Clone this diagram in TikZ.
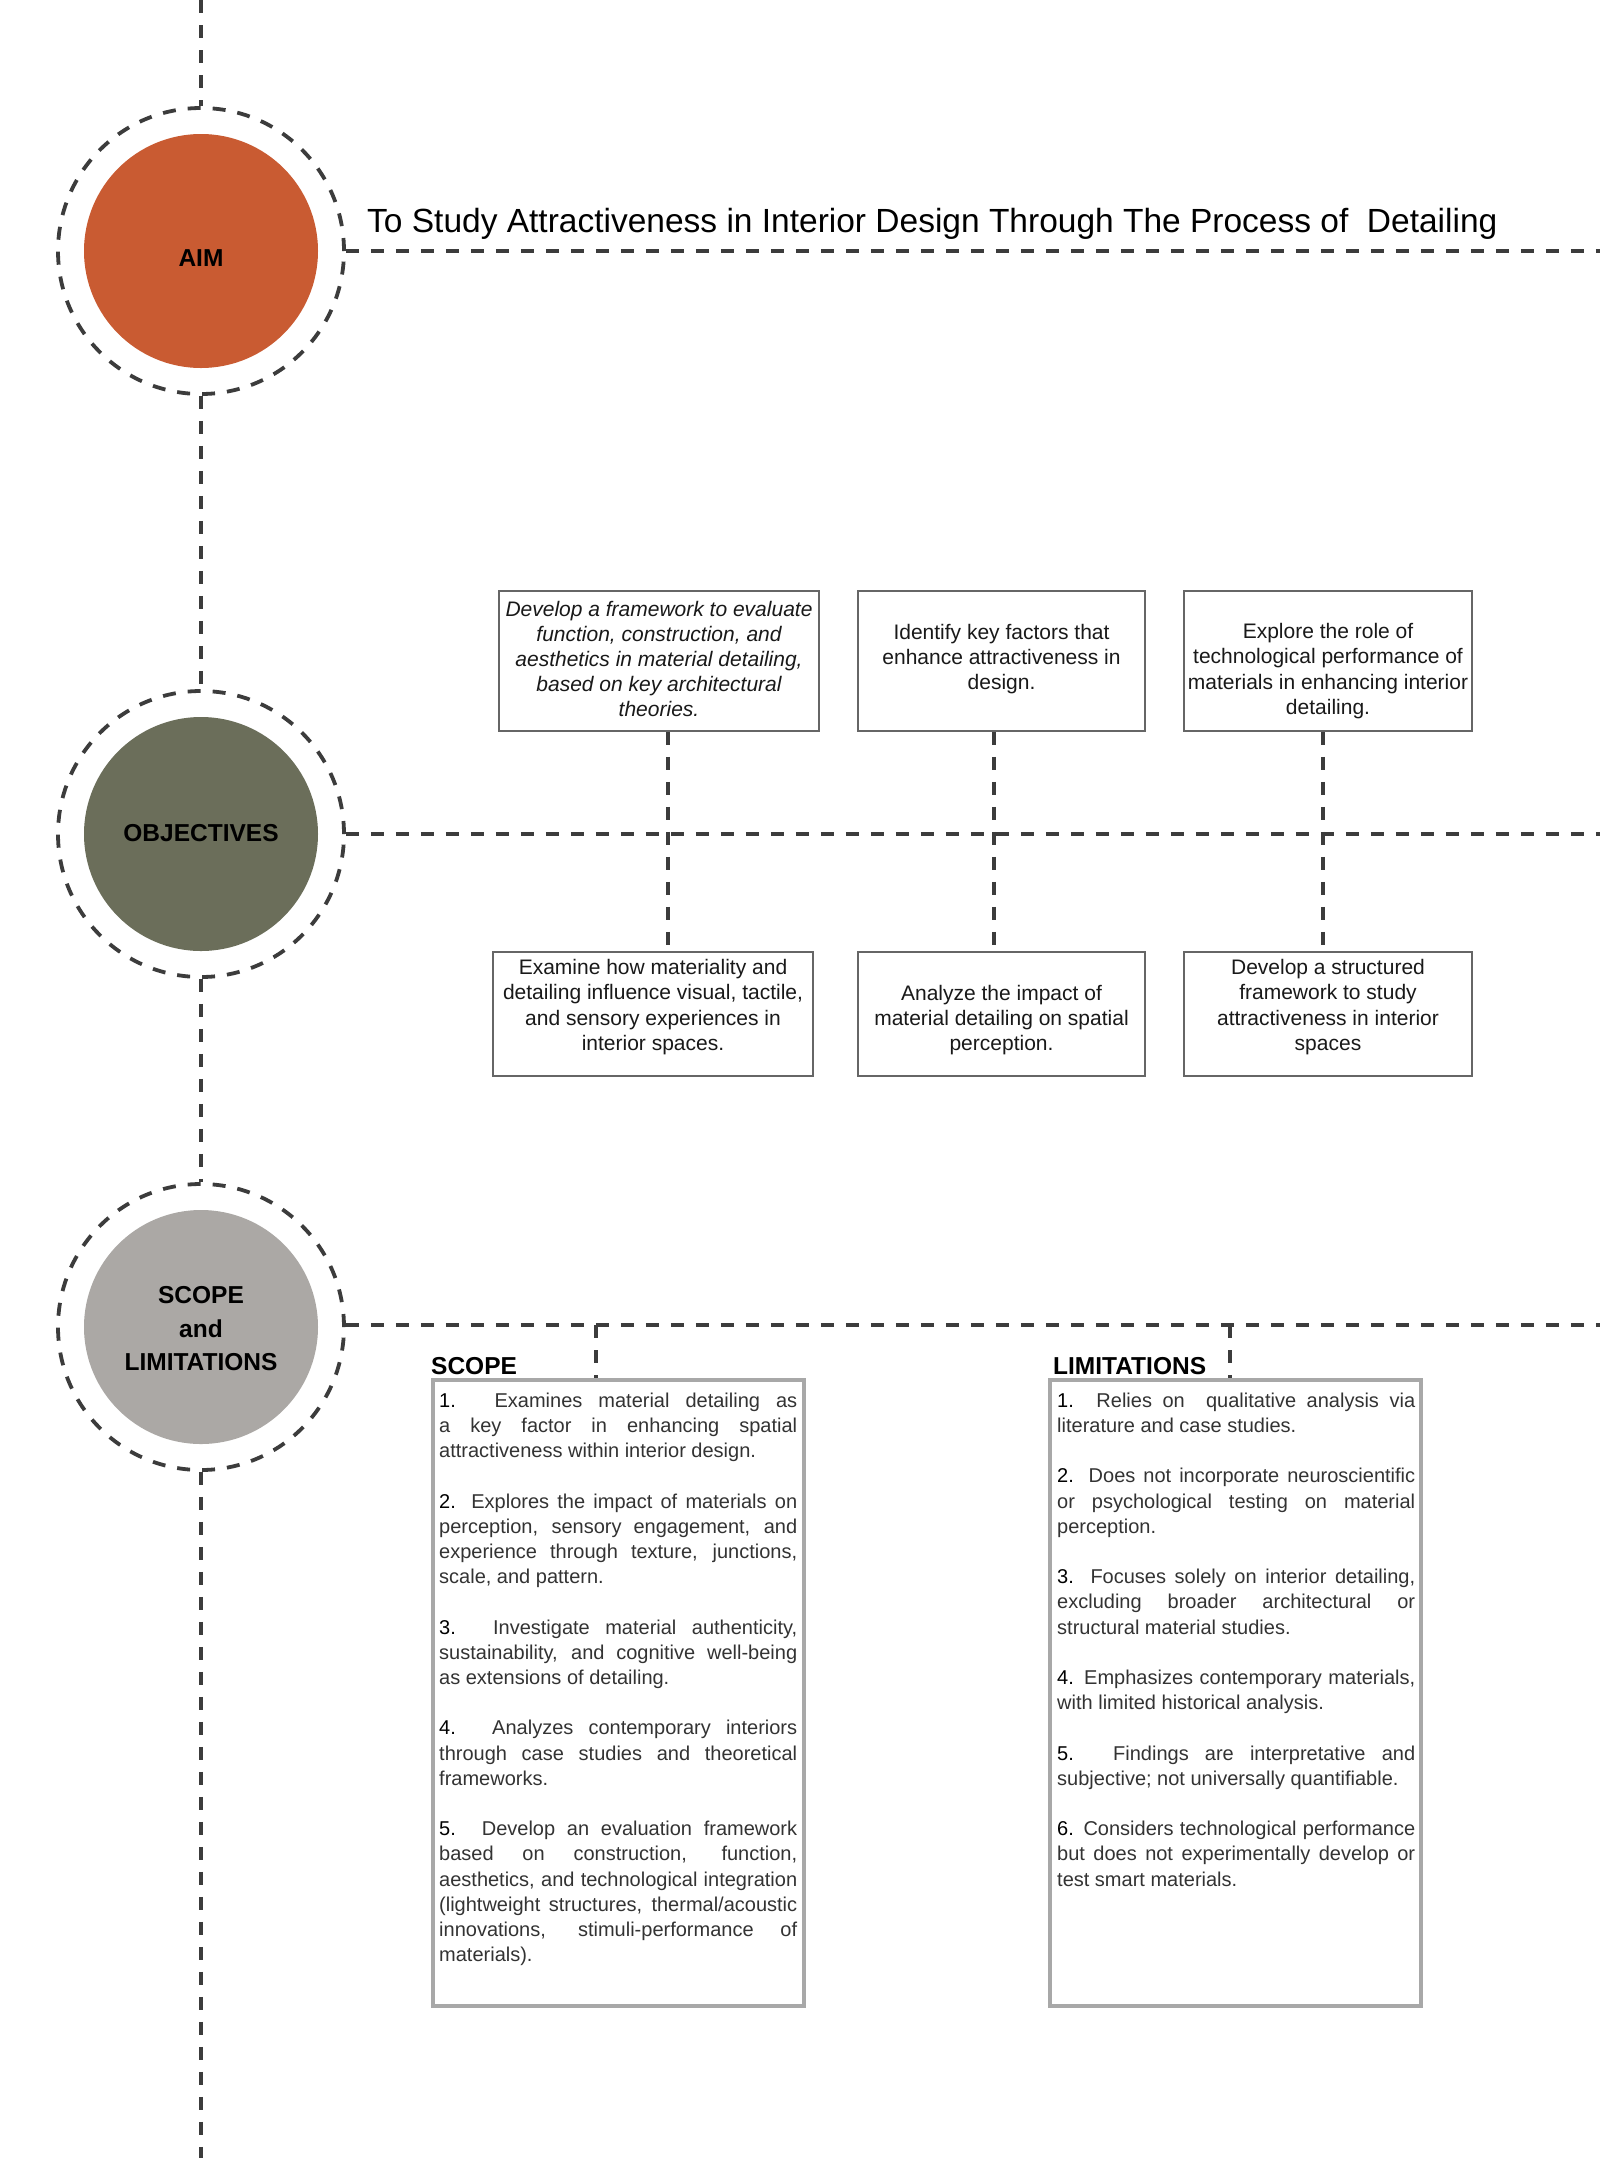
\documentclass[tikz,border=0pt]{standalone}
\usepackage{fontspec}
\setmainfont{Liberation Sans}
\definecolor{aimc}{HTML}{C95B32}
\definecolor{objc}{HTML}{6B6E5A}
\definecolor{scopec}{HTML}{ABA8A5}
\definecolor{dashc}{HTML}{3C3C3C}
\definecolor{boxc}{HTML}{666666}
\definecolor{sboxc}{HTML}{A8A8A8}
\definecolor{txtc}{HTML}{333333}
\begin{document}
\begin{tikzpicture}[x=1pt,y=-1pt,
  dline/.style={draw=dashc, line width=3.8pt, dash pattern=on 13pt off 12pt},
  outerc/.style={circle, minimum size=286pt, inner sep=0pt, dline},
  innerc/.style={circle, minimum size=234pt, inner sep=0pt, draw=none},
  circtxt/.style={font=\bfseries\fontsize{24.5}{33.5}\selectfont, align=center, text=black, inner sep=0pt},
  objbox/.style={draw=boxc, line width=1.8pt, inner sep=0pt, rectangle},
  objtxt/.style={font=\fontsize{21}{25.2}\selectfont, align=center, text=black!90, inner sep=0pt},
  objtxti/.style={objtxt, font=\itshape\fontsize{21}{25.2}\selectfont},
  sbox/.style={draw=sboxc, line width=4pt, inner sep=0pt, rectangle, minimum width=371pt, minimum height=626pt},
  stxt/.style={font=\fontsize{20}{25.2}\selectfont, text width=358pt, align=justify, inner sep=0pt, anchor=north west, text=txtc,
     execute at begin node={\setlength{\parindent}{0pt}\tolerance=10000 \hyphenpenalty=10000 \exhyphenpenalty=10000 }},
  slabel/.style={font=\bfseries\fontsize{24.5}{28}\selectfont, anchor=base west, inner sep=0pt, text=black}
]
\useasboundingbox (0,0) rectangle (1600,2158);
\fill[white] (0,0) rectangle (1600,2158);

% circles
\node[innerc, fill=aimc] (aim) at (201,251) {};
\node[outerc] (aimo) at (201,251) {};
\node[circtxt] (aimt) at (201,258) {AIM};

\node[innerc, fill=objc] (obj) at (201,834) {};
\node[outerc] (objo) at (201,834) {};
\node[circtxt] (objt) at (201,833) {OBJECTIVES};

\node[innerc, fill=scopec] (scp) at (201,1327) {};
\node[outerc] (scpo) at (201,1327) {};
\node[circtxt] (scpt) at (201,1329) {SCOPE\\and\\LIMITATIONS};

% spine
\coordinate (topend) at (201,0);
\coordinate (botend) at (201,2158);
\draw[dline] (topend) -- (aimo.north);
\draw[dline] (aimo.south) -- (objo.north);
\draw[dline] (objo.south) -- (scpo.north);
\draw[dline] (scpo.south) -- (botend);

% horizontals
\coordinate (aimend) at (1600,251);
\coordinate (objend) at (1600,834);
\coordinate (scpend) at (1600,1325);
\draw[dline] (aimo.east) -- (aimend);
\draw[dline] (objo.east) -- (objend);
\draw[dline] (scpo.east |- scpend) -- (scpend);

% title
\node[font=\fontsize{33.5}{40}\selectfont, anchor=base west, inner sep=0pt, text=black] (title) at (367,232)
  {To Study Attractiveness in Interior Design Through The Process of~ Detailing};

% objective boxes
\node[objbox, minimum width=320pt, minimum height=140pt] (o1) at (659,661) {};
\node[objbox, minimum width=287pt, minimum height=140pt] (o2) at (1001.5,661) {};
\node[objbox, minimum width=288pt, minimum height=140pt] (o3) at (1328,661) {};
\node[objbox, minimum width=320pt, minimum height=124pt] (o4) at (653,1014) {};
\node[objbox, minimum width=287pt, minimum height=124pt] (o5) at (1001.5,1014) {};
\node[objbox, minimum width=288pt, minimum height=124pt] (o6) at (1328,1014) {};

\node[objtxti] (o1t) at (659,659) {Develop a framework to evaluate\\function, construction, and\\aesthetics in material detailing,\\based on key architectural\\theories.};
\node[objtxt] (o2t) at (1001.5,659) {Identify key factors that\\enhance attractiveness in\\design.};
\node[objtxt] (o3t) at (1328,671) {Explore the role of\\technological performance of\\materials in enhancing interior\\detailing.};
\node[objtxt] (o4t) at (653,1007) {Examine how materiality and\\detailing influence visual, tactile,\\and sensory experiences in\\interior spaces.};
\node[objtxt] (o5t) at (1001.5,1020) {Analyze the impact of\\material detailing on spatial\\perception.};
\node[objtxt] (o6t) at (1328,1007) {Develop a structured\\framework to study\\attractiveness in interior\\spaces};

\coordinate (v1) at (668,834);
\coordinate (v2) at (994,834);
\coordinate (v3) at (1323,834);
\draw[dline] (v1 |- o1.south) -- (v1 |- o4.north);
\draw[dline] (v2 |- o2.south) -- (v2 |- o5.north);
\draw[dline] (v3 |- o3.south) -- (v3 |- o6.north);

% scope & limitations boxes
\node[sbox] (sbox) at (618.5,1693) {};
\node[sbox] (lbox) at (1235.5,1693) {};
\coordinate (sv1) at (596,1325);
\coordinate (sv2) at (1230,1325);
\draw[dline] (sv1) -- (sv1 |- sbox.north);
\draw[dline] (sv2) -- (sv2 |- lbox.north);

\node[slabel] (slab) at (431,1374) {SCOPE};
\node[slabel] (llab) at (1053,1374) {LIMITATIONS};

\node[stxt] (stext) at (439,1392.5) {%
\textcolor{black}{1.} Examines material detailing as\linebreak a key factor in enhancing spatial\linebreak attractiveness within interior design.\par\vspace{25.2pt}
\textcolor{black}{2.} Explores the impact of materials on\linebreak perception, sensory engagement, and\linebreak experience through texture, junctions,\linebreak scale, and pattern.\par\vspace{25.2pt}
\textcolor{black}{3.} Investigate material authenticity,\linebreak sustainability, and cognitive well-being\linebreak as extensions of detailing.\par\vspace{25.2pt}
\textcolor{black}{4.} Analyzes contemporary interiors\linebreak through case studies and theoretical\linebreak frameworks.\par\vspace{25.2pt}
\textcolor{black}{5.} Develop an evaluation framework\linebreak based on construction, function,\linebreak aesthetics, and technological integration\linebreak (lightweight structures, thermal/acoustic\linebreak innovations, stimuli-performance of\linebreak materials).\par};

\node[stxt] (ltext) at (1057,1392.5) {%
\textcolor{black}{1.} Relies on~ qualitative analysis via\linebreak literature and case studies.\par\vspace{25.2pt}
\textcolor{black}{2.} Does not incorporate neuroscientific\linebreak or psychological testing on material\linebreak perception.\par\vspace{25.2pt}
\textcolor{black}{3.} Focuses solely on interior detailing,\linebreak excluding broader architectural or\linebreak structural material studies.\par\vspace{25.2pt}
\textcolor{black}{4.} Emphasizes contemporary materials,\linebreak with limited historical analysis.\par\vspace{25.2pt}
\textcolor{black}{5.} Findings are interpretative and\linebreak subjective; not universally quantifiable.\par\vspace{25.2pt}
\textcolor{black}{6.} Considers technological performance\linebreak but does not experimentally develop or\linebreak test smart materials.\par};
\end{tikzpicture}
\end{document}
